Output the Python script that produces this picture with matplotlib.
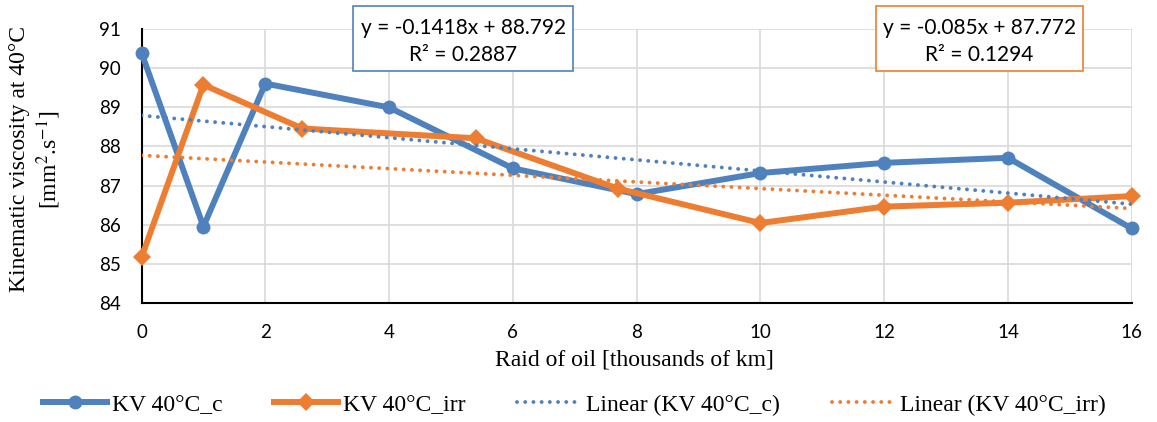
import numpy as np
import matplotlib
matplotlib.use("Agg")
import matplotlib.pyplot as plt
from matplotlib.patches import Rectangle
from matplotlib.lines import Line2D

# Kinematic viscosity at 40 °C versus oil mileage (thousands of km)
x_c = [0, 1, 2, 4, 6, 8, 10, 12, 14, 16]
kv_c = [90.40, 85.95, 89.61, 89.00, 87.44, 86.78, 87.32, 87.58, 87.71, 85.90]

x_irr = [0, 1, 2.6, 5.4, 7.7, 10, 12, 14, 16]
kv_irr = [85.16, 89.58, 88.46, 88.21, 86.92, 86.04, 86.46, 86.56, 86.73]

# Linear trend lines: slope, intercept, R²
slope_c, icpt_c, r2_c = -0.1418, 88.792, 0.2887
slope_irr, icpt_irr, r2_irr = -0.085, 87.772, 0.1294

x_ticks = [0, 2, 4, 6, 8, 10, 12, 14, 16]
y_ticks = [84, 85, 86, 87, 88, 89, 90, 91]

labels = ["KV 40°C_c", "KV 40°C_irr", "Linear (KV 40°C_c)", "Linear (KV 40°C_irr)"]

BLUE = "#4F81BD"
ORANGE = "#ED7D31"
GRID = "#D9D9D9"

plt.rcParams["mathtext.fontset"] = "stix"
serif = ["Liberation Serif", "DejaVu Serif"]
sans = ["Lato", "DejaVu Sans"]

W, H = 1157, 422
fig = plt.figure(figsize=(W / 100, H / 100), dpi=100)
fig.patch.set_facecolor("white")


def fx(px):
    return px / W


def fy(py):
    return 1 - py / H


left, right, top, bottom = 141.5, 1131.7, 29.3, 302.7
ax = fig.add_axes([fx(left), fy(bottom), fx(right - left), (bottom - top) / H])

ax.set_xlim(0, 16)
ax.set_ylim(84, 91)
ax.set_xticks(x_ticks)
ax.set_yticks(y_ticks)
ax.grid(True, color=GRID, linewidth=1.2, zorder=0)
ax.set_axisbelow(True)
for s in ("top", "right"):
    ax.spines[s].set_visible(False)
for s in ("left", "bottom"):
    ax.spines[s].set_linewidth(1.5)
    ax.spines[s].set_color("black")
    ax.spines[s].set_zorder(2)
ax.tick_params(axis="both", length=0, labelsize=13.5)
ax.tick_params(axis="x", pad=15.5)
ax.tick_params(axis="y", pad=15)
for lab in ax.get_xticklabels() + ax.get_yticklabels():
    lab.set_fontfamily(sans)

ax.plot(x_c, kv_c, color=BLUE, lw=4.3, marker="o", markersize=10,
        markeredgewidth=0, zorder=3, clip_on=False)
ax.plot(x_irr, kv_irr, color=ORANGE, lw=4.3, marker="D", markersize=9.5,
        markeredgewidth=0, zorder=4, clip_on=False)

xs = np.array([0.0, 16.0])
dot = (0, (0.01, 2.1))
ax.plot(xs, slope_c * xs + icpt_c, color=BLUE, lw=2.8, linestyle=dot,
        dash_capstyle="round", zorder=5)
ax.plot(xs, slope_irr * xs + icpt_irr, color=ORANGE, lw=2.8, linestyle=dot,
        dash_capstyle="round", zorder=6)

# Axis titles
fig.text(fx(634.7), fy(360), "Raid of oil [thousands of km]", fontsize=17,
         family=serif, ha="center", va="center")
fig.text(fx(36), fy(159.5), "Kinematic viscosity at 40°C\n[mm$^{2}$.s$^{-1}$]",
         fontsize=17, family=serif, rotation=90, ha="center", va="center",
         multialignment="center", linespacing=1.2)


# Trend line equation boxes
def eq_box(x0, x1, color, slope, icpt, r2):
    y0, y1 = 6, 71
    fig.patches.append(Rectangle((fx(x0), fy(y1)), fx(x1 - x0), (y1 - y0) / H,
                                 transform=fig.transFigure, facecolor="white",
                                 edgecolor=color, linewidth=1.2, zorder=10))
    cx = fx((x0 + x1) / 2)
    fig.text(cx, fy(27.5), f"y = {slope:g}x + {icpt:g}", fontsize=15, family=sans,
             ha="center", va="center", zorder=11)
    fig.text(cx, fy(55), f"R² = {r2:g}", fontsize=15, family=sans,
             ha="center", va="center", zorder=11)


eq_box(353.3, 573.3, BLUE, slope_c, icpt_c, r2_c)
eq_box(875.7, 1082.7, ORANGE, slope_irr, icpt_irr, r2_irr)

# Legend
handles = [
    Line2D([], [], color=BLUE, lw=4.3, marker="o", markersize=10, markeredgewidth=0),
    Line2D([], [], color=ORANGE, lw=4.3, marker="D", markersize=9.5, markeredgewidth=0),
    Line2D([], [], color=BLUE, lw=2.8, linestyle=dot, dash_capstyle="round"),
    Line2D([], [], color=ORANGE, lw=2.8, linestyle=dot, dash_capstyle="round"),
]
fig.legend(handles, labels, loc="center", bbox_to_anchor=(fx(574.5), fy(405)),
           ncol=4, frameon=False, prop={"family": serif, "size": 17},
           handlelength=2.7, handletextpad=0.2, columnspacing=2.2,
           borderpad=0, borderaxespad=0)

fig.savefig("out.png", dpi=100, facecolor="white")
